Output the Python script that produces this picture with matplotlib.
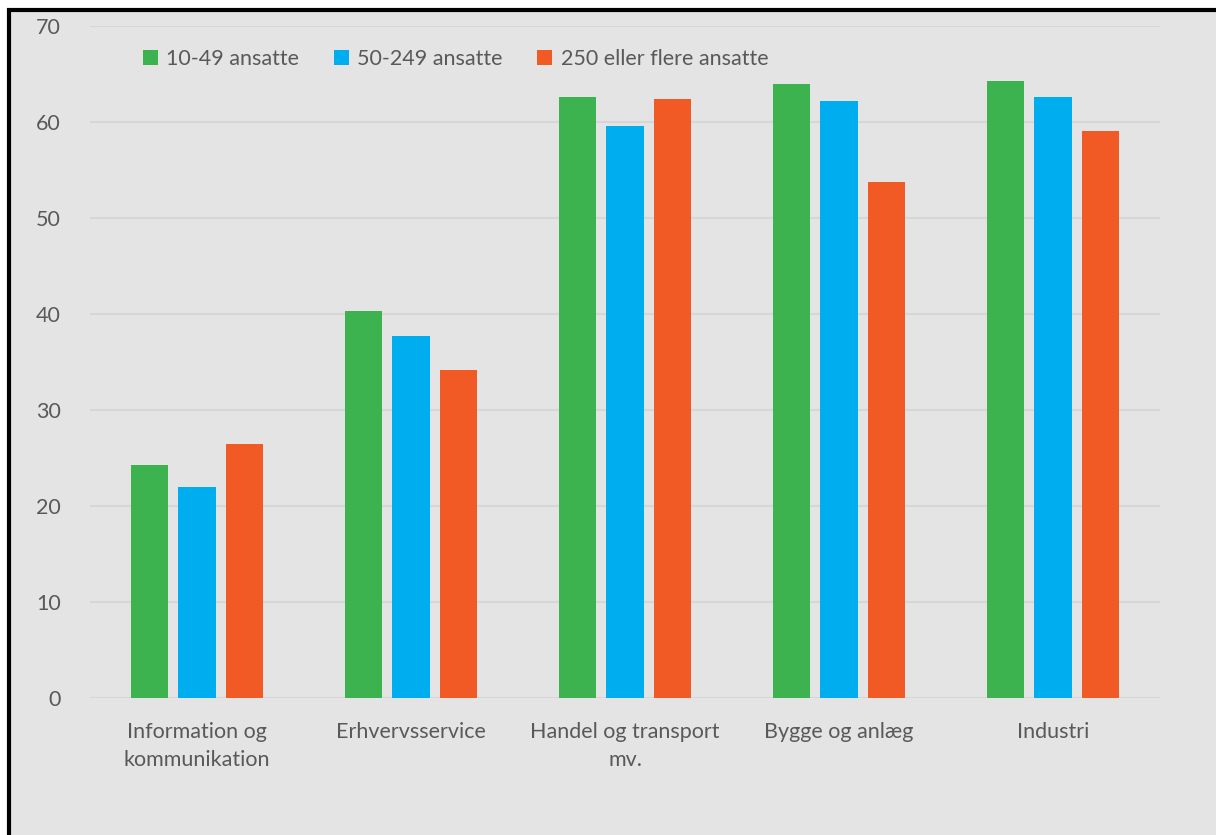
import numpy as np
import matplotlib.pyplot as plt
from matplotlib.patches import Rectangle

# Andel virksomheder fordelt på branche og størrelse
brancher = ["Information og\nkommunikation", "Erhvervsservice", "Handel og transport\nmv.",
            "Bygge og anlæg", "Industri"]
sm_10_49 = [24.3, 40.3, 62.6, 64.0, 64.3]
sm_50_249 = [22.0, 37.7, 59.6, 62.2, 62.6]
st_250 = [26.5, 34.2, 62.4, 53.8, 59.1]
serier = ["10-49 ansatte", "50-249 ansatte", "250 eller flere ansatte"]
farver = ["#3cb34f", "#00adef", "#f15a24"]

plt.rcParams['font.family'] = ['Lato', 'DejaVu Sans']
tekst = "#595959"
bg = "#e4e4e4"
fs = 15.5

fig = plt.figure(figsize=(12.16, 8.35), dpi=100, facecolor="white")
# grå ramme med sort kant
fig.patches.append(Rectangle((9 / 1216, -0.05), 1.1, (825 / 835) + 0.05,
                             transform=fig.transFigure, facecolor=bg,
                             edgecolor="black", linewidth=3, zorder=-1))

ax = fig.add_axes([90 / 1216, 137 / 835, 1070 / 1216, 672 / 835])
ax.set_facecolor("none")

x = np.arange(len(brancher))
w = 0.175
step = 0.222
for i, (vals, navn, c) in enumerate(zip([sm_10_49, sm_50_249, st_250], serier, farver)):
    ax.bar(x + (i - 1) * step, vals, width=w, color=c, label=navn, zorder=3)

ax.set_xlim(-0.5, len(brancher) - 0.5)
ax.set_ylim(0, 70)
ax.set_yticks(range(0, 71, 10))
ax.yaxis.grid(True, color="#d6d6d6", linewidth=1.5, zorder=0)
ax.set_axisbelow(True)
for s in ax.spines.values():
    s.set_visible(False)
ax.tick_params(axis="both", length=0, labelsize=fs, labelcolor=tekst)
ax.tick_params(axis="y", pad=21)
ax.tick_params(axis="x", pad=17)
ax.set_xticks(x)
ax.set_xticklabels(brancher, va="top", linespacing=1.55)

ax.legend(loc="upper left", bbox_to_anchor=(0.031, 0.995), ncol=3, frameon=False,
          fontsize=fs, labelcolor=tekst, handlelength=0.7, handleheight=0.7,
          handletextpad=0.4, columnspacing=1.6)

fig.savefig("out.png", dpi=100, facecolor="white")
